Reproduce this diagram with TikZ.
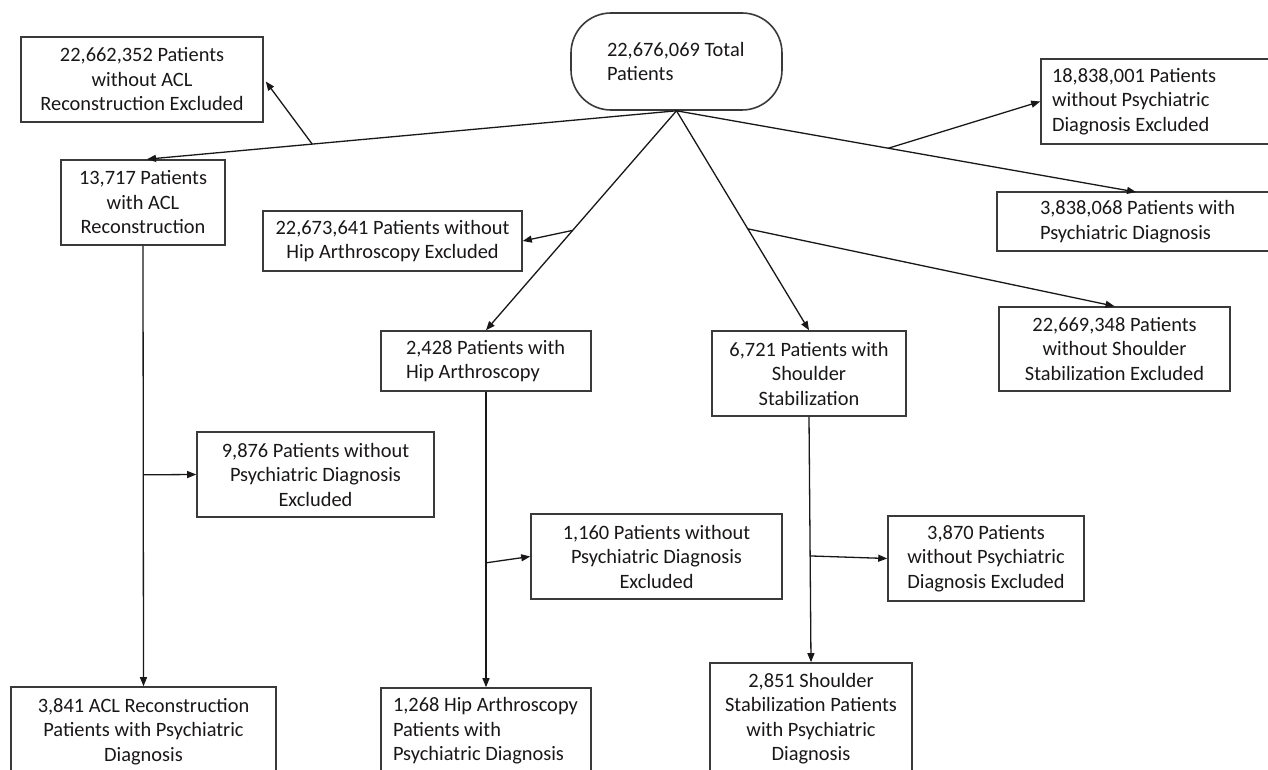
\documentclass[tikz,border=0pt]{standalone}
\usepackage{fontspec}
\setmainfont{Carlito}
\usetikzlibrary{arrows.meta,calc}
\definecolor{ink}{HTML}{1A1718}
\definecolor{framec}{HTML}{3A3A3A}
\tikzset{
  box/.style={draw=framec, line width=1.6pt, inner sep=0pt, align=center, text=ink,
              font=\fontsize{20.4}{24.5}\selectfont},
  lbox/.style={box, align=flush left, text width=#1},
  conn/.style={draw=ink, line width=1.3pt},
  arr/.style={conn, -{Triangle[length=9pt,width=7pt]}},
}
\begin{document}
\begin{tikzpicture}[x=1pt,y=-1pt]
\clip (0,0) rectangle (1268,770);
\fill[white] (0,0) rectangle (1268,770);

% nodes
\node[lbox=211pt, rounded corners=40pt, minimum height=97pt] (total) at (676.5,61.5)
  {\hspace*{36pt}22,676,069 Total\\\hspace*{36pt}Patients};
\node[box, minimum width=242pt, minimum height=85pt] (exacl) at (142,79.5)
  {22,662,352 Patients\\without ACL\\Reconstruction Excluded};
\node[box, minimum width=164pt, minimum height=85pt] (acl) at (143,202.5)
  {13,717 Patients\\with ACL\\Reconstruction};
\node[box, minimum width=259pt, minimum height=60pt] (hipex) at (392.5,241)
  {22,673,641 Patients without\\Hip Arthroscopy Excluded};
\node[lbox=210pt, minimum height=60pt] (hip) at (486,361)
  {\hspace*{25pt}2,428 Patients with\\\hspace*{25pt}Hip Arthroscopy};
\node[box, minimum width=194pt, minimum height=85pt] (sh) at (809,373.5)
  {6,721 Patients with\\Shoulder\\Stabilization};
\node[box, minimum width=231pt, minimum height=84pt] (shex) at (1114.5,349)
  {22,669,348 Patients\\without Shoulder\\Stabilization Excluded};
\node[lbox=249pt, minimum height=85pt] (exps) at (1165.5,101.5)
  {\hspace*{11pt}18,838,001 Patients\\\hspace*{11pt}without Psychiatric\\\hspace*{11pt}Diagnosis Excluded};
\node[lbox=293pt, minimum height=59pt] (psy) at (1143.5,221.5)
  {\hspace*{43pt}3,838,068 Patients with\\\hspace*{43pt}Psychiatric Diagnosis};
\node[box, minimum width=237pt, minimum height=85pt] (ex1) at (315.5,474.5)
  {9,876 Patients without\\Psychiatric Diagnosis\\Excluded};
\node[box, minimum width=251pt, minimum height=85pt] (ex2) at (656.5,556.5)
  {1,160 Patients without\\Psychiatric Diagnosis\\Excluded};
\node[box, minimum width=196pt, minimum height=85pt] (ex3) at (986,558.5)
  {3,870 Patients\\without Psychiatric\\Diagnosis Excluded};
\node[box, minimum width=265pt, minimum height=89pt] (aclb) at (143.5,731.5)
  {3,841 ACL Reconstruction\\Patients with Psychiatric\\Diagnosis};
\node[lbox=210pt, minimum height=86pt] (hipb) at (486,731)
  {\hspace*{12pt}1,268 Hip Arthroscopy\\\hspace*{12pt}Patients with\\\hspace*{12pt}Psychiatric Diagnosis};
\node[box, minimum width=202pt, minimum height=111pt] (shb) at (811,718.5)
  {2,851 Shoulder\\Stabilization Patients\\with Psychiatric\\Diagnosis};

% junction points
\coordinate (psytop) at (1136,192);
\coordinate (aclin) at ($(acl.north)+(4,0)$);
\coordinate (j1) at ($(total.south)!0.688!(aclin)$);
\coordinate (j2) at ($(total.south)!0.545!(hip.north)$);
\coordinate (j3) at ($(total.south)!0.538!(sh.north)$);
\coordinate (j4) at ($(total.south)!0.461!(psytop)$);
\coordinate (k1) at ($(acl.south)!0.52!(aclb.north)$);
\coordinate (k2) at ($(hip.south)!0.579!(hipb.north)$);
\coordinate (k3) at ($(sh.south)!0.567!(shb.north)$);

% connectors
\draw[arr] (total.south) -- (aclin);
\draw[arr] (j1) -- ($(exacl.east)+(2,2)$);
\draw[arr] (total.south) -- (hip.north);
\draw[arr] (j2) -- (hipex.east);
\draw[arr] (total.south) -- (sh.north);
\draw[arr] (j3) -- (shex.north);
\draw[arr] (total.south) -- (psytop);
\draw[arr] (j4) -- (exps.west);
\draw[arr] (acl.south) -- (aclb.north);
\draw[arr] (k1) -- (ex1.west);
\draw[arr] (hip.south) -- (hipb.north);
\draw[arr] (k2) -- (ex2.west);
\draw[arr] (sh.south) -- (shb.north);
\draw[arr] (k3) -- (ex3.west);
\end{tikzpicture}
\end{document}
